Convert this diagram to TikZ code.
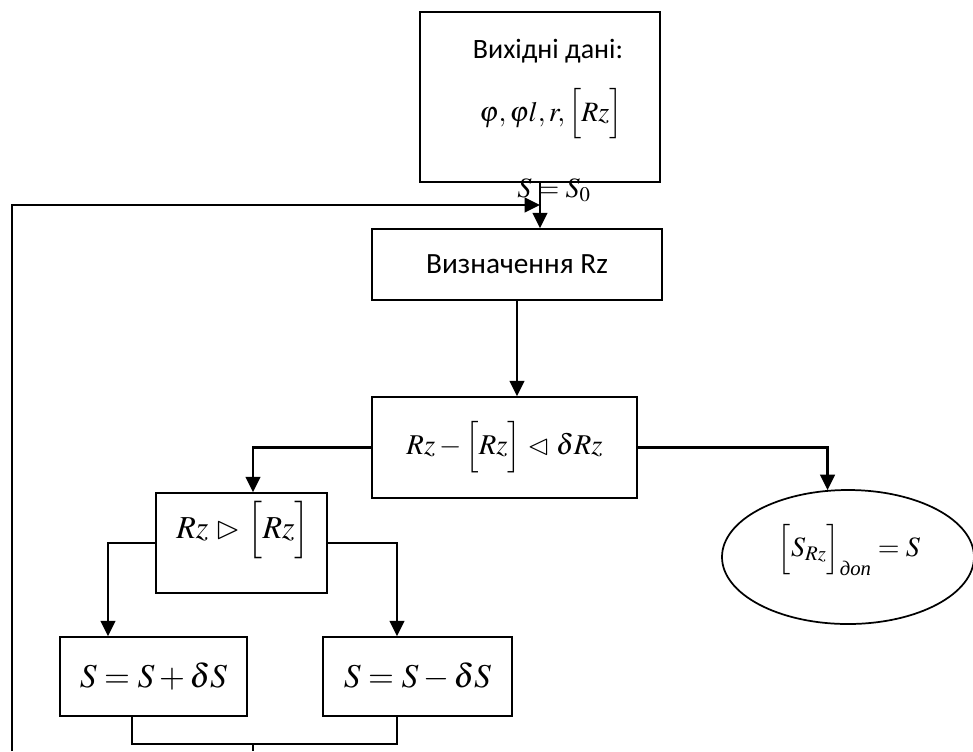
\documentclass[tikz,border=0pt]{standalone}
\usepackage{amsmath,amssymb}
\usepackage{mathptmx}
\usepackage{fontspec}
\setmainfont{Liberation Serif}
\newfontfamily\cyrsans{Carlito}
\usetikzlibrary{arrows.meta}
\usetikzlibrary{shapes.geometric}

\begin{document}
\begin{tikzpicture}[x=0.75pt, y=-0.75pt,
	>={Triangle[length=11.5pt, width=11pt]}]
	\useasboundingbox (0,0) rectangle (973,751);

	\begin{scope}[every node/.style = {draw, line width=1.3pt, inner sep=0pt}]
		\node[minimum width=180pt, minimum height=127.5pt] (vhid) at (540,97) {};
		\node[minimum width=217.5pt, minimum height=53.25pt,
			font=\cyrsans\fontsize{22}{26}\selectfont] (vyzn) at (517,264.5) {Визначення Rz};
		\node[minimum width=198.75pt, minimum height=75.75pt,
			font=\fontsize{21.5}{25}\selectfont] (umova) at (504.5,447.5)
			{$Rz-\Bigl[Rz\Bigr]\vartriangleleft\delta Rz$};
		\node[minimum width=128.25pt, minimum height=75pt] (porivn) at (241.5,543) {};
		\node[ellipse, minimum width=189pt, minimum height=100.5pt] (rezult) at (848,557) {};
		\node[minimum width=140.25pt, minimum height=59.25pt,
			font=\fontsize{25}{30}\selectfont] (plus) at (153.5,676.5) {$S=S+\delta S$};
		\node[minimum width=141.75pt, minimum height=59.25pt,
			font=\fontsize{25}{30}\selectfont] (minus) at (417.5,676.5) {$S=S-\delta S$};
	\end{scope}

	% texts
	\node[font=\cyrsans\fontsize{21}{25}\selectfont] (vhidtitle) at (548,51) {Вихідні дані:};
	\node[font=\fontsize{21}{25}\selectfont] (vhidvals) at (551,114) {$\varphi,\varphi l,r,\Bigl[Rz\Bigr]$};
	\node[font=\fontsize{21}{25}\selectfont] (snull) at (554,190) {$S=S_0$};
	\node[font=\fontsize{24}{28}\selectfont] (porivntext) at (243,530) {$Rz\vartriangleright\Bigl[Rz\Bigr]$};
	\node[font=\fontsize{21}{25}\selectfont] (rezulttext) at (849,550)
		{$\Bigl[S_{Rz}\Bigr]_{\text{\itshape доп}}=S$};

	\coordinate (vhod) at (540,205);
	\coordinate (midcol) at (253,0);
	\coordinate (lcol) at (108,0);
	\coordinate (rcol) at (397,0);
	\coordinate (pcol) at (132,0);
	\coordinate (jrow) at (0,744);
	\coordinate (loopstart) at (12,751);

	\begin{scope}[line width=1.6pt]
		\draw[->] (vhid.south) -- (vyzn.north -| vhod);
		\draw[->] (loopstart) |- (vhod);
		\draw[->] (vyzn.south) -- (umova.north -| vyzn.south);
		\draw[->] (umova.west) -| (porivn.north -| midcol);
		\draw[->] (umova.east) -| (rezult.107);
		\draw[->] (porivn.west) -| (plus.north -| lcol);
		\draw[->] (porivn.east) -| (minus.north -| rcol);
	\end{scope}
	\draw[line width=1.1pt] (plus.south -| pcol) |- (jrow -| rcol) -- (minus.south -| rcol);
	\draw[line width=1.1pt] (jrow -| midcol) -- (midcol |- loopstart);
\end{tikzpicture}
\end{document}
